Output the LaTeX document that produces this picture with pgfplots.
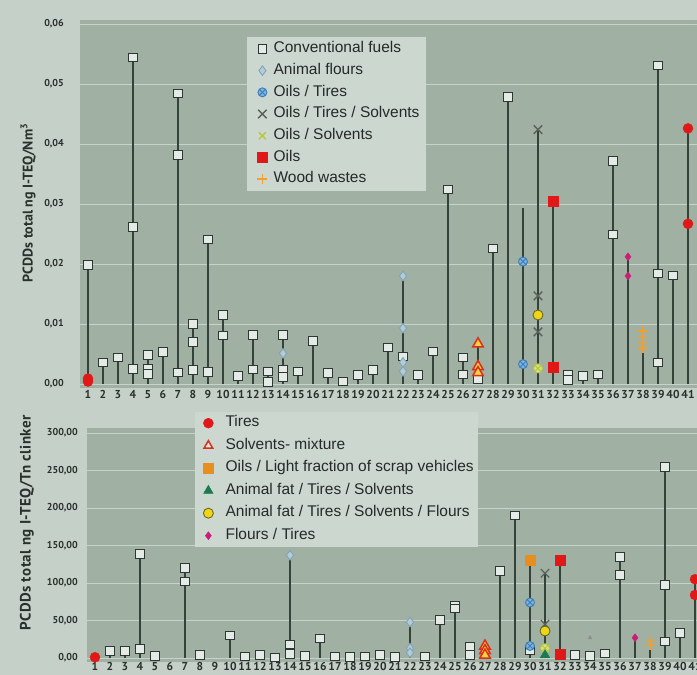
\documentclass[border=0pt]{standalone}
\usepackage{pgfplots}
\pgfplotsset{compat=1.18}
\usepackage{fontspec}
\setmainfont{Liberation Sans}
\newfontfamily\ptsans{PT Sans}
\definecolor{outerbg}{HTML}{C5D0C8}
\definecolor{plotbg}{HTML}{A0B0A3}
\definecolor{legendbg}{HTML}{CCD7D0}
\definecolor{gridc}{HTML}{C6D3CA}
\definecolor{stemc}{HTML}{34423A}
\definecolor{tickc}{HTML}{2A302C}
\definecolor{legtext}{HTML}{262A27}
\definecolor{convfill}{HTML}{E4EAE6}
\definecolor{convdraw}{HTML}{2E3832}
\definecolor{flourfill}{HTML}{B5CCD6}
\definecolor{flourdraw}{HTML}{7FA6B8}
\definecolor{otfill}{HTML}{7FB2DC}
\definecolor{otdraw}{HTML}{3C7EB8}
\definecolor{otsc}{HTML}{5A605B}
\definecolor{osc}{HTML}{B8C83C}
\definecolor{osfill}{HTML}{D8E08A}
\definecolor{oilred}{HTML}{E01818}
\definecolor{woodc}{HTML}{F0A030}
\definecolor{solvfill}{HTML}{F8D040}
\definecolor{solvdraw}{HTML}{D8301A}
\definecolor{lightc}{HTML}{E88E1E}
\definecolor{aftsc}{HTML}{1D7A4E}
\definecolor{aftsffill}{HTML}{F0D418}
\definecolor{aftsfdraw}{HTML}{6A6A20}
\definecolor{ftc}{HTML}{C81E78}
\pgfplotsset{
  panel/.style={scale only axis, axis background/.style={fill=plotbg},
    axis line style={draw=none}, major tick style={draw=none},
    ymajorgrids, grid style={draw=gridc, line width=0.9pt},
    xtick={1,...,41}, /pgf/number format/assume math mode=true,
    scaled y ticks=false, clip mode=global,
    xticklabel style={font=\ptsans\bfseries\fontsize{11.5}{12}\selectfont, text=tickc, inner sep=0pt, yshift=-2pt},
    yticklabel style={font=\ptsans\bfseries\fontsize{10}{12}\selectfont, text=tickc, inner sep=0pt,
      /pgf/number format/.cd, fixed, fixed zerofill, precision=2, use comma, /tikz/.cd},
    ylabel style={font=\ptsans\bfseries\fontsize{14}{16}\selectfont, text=tickc, anchor=center},
    legend cell align=left,
  },
  topleg/.style={legend image code/.code={\path (-8pt,0pt) (11pt,0pt);
      \draw[mark repeat=2,mark phase=2,##1] plot coordinates {(-1pt,0pt)(0pt,0pt)(1pt,0pt)};}},
  botleg/.style={legend image code/.code={\path (-8.5pt,0pt) (17pt,0pt);
      \draw[mark repeat=2,mark phase=2,##1] plot coordinates {(-1pt,0pt)(0pt,0pt)(1pt,0pt)};}},
  stem/.style={ycomb, no marks, draw=stemc, line width=1.3pt, forget plot},
  conv/.style={only marks, mark=square*, mark size=4.3pt, mark options={fill=convfill, draw=convdraw, line width=1pt}},
  flour/.style={only marks, mark=diamond*, mark size=4.8pt, mark options={fill=flourfill, draw=flourdraw, line width=0.9pt}},
  oiltire/.style={only marks, mark=otimes*, mark size=4.5pt, mark options={fill=otfill, draw=otdraw, line width=0.9pt}},
  ots/.style={only marks, mark=x, mark size=6pt, mark options={draw=otsc, line width=1.4pt}},
  oilsolvleg/.style={only marks, mark=x, mark size=5pt, mark options={draw=osc, line width=1.4pt}},
  oilsolv/.style={only marks, mark=otimes*, mark size=4.5pt, mark options={fill=osfill, draw=osc, line width=0.9pt}},
  oils/.style={only marks, mark=square*, mark size=5pt, mark options={fill=oilred, draw=oilred}},
  wood/.style={only marks, mark=+, mark size=5pt, mark options={draw=woodc, line width=1.6pt}},
  tires/.style={only marks, mark=*, mark size=5pt, mark options={fill=oilred, draw=oilred}},
  solv/.style={only marks, mark=triangle*, mark size=6pt, mark options={fill=solvfill, draw=solvdraw, line width=1.5pt}},
  light/.style={only marks, mark=square*, mark size=5pt, mark options={fill=lightc, draw=lightc}},
  afts/.style={only marks, mark=triangle*, mark size=5.5pt, mark options={fill=aftsc, draw=aftsc}},
  aftsf/.style={only marks, mark=*, mark size=5pt, mark options={fill=aftsffill, draw=aftsfdraw, line width=0.9pt}},
  ftires/.style={only marks, mark=diamond*, mark size=4pt, mark options={fill=ftc, draw=ftc}},
}
\begin{document}
\begin{tikzpicture}
\fill[outerbg] (0,0) rectangle (697pt,675pt);
\useasboundingbox (0,0) rectangle (697pt,675pt);
% ---------------- top panel ----------------
\begin{axis}[panel, at={(80pt,287pt)}, anchor=south west, width=617pt, height=368pt,
  xmin=0.4667, xmax=41.6, ymin=-0.00067, ymax=0.06067,
  ytick={0,0.01,0.02,0.03,0.04,0.05,0.06},
  yticklabel style={xshift=-16pt},
  ylabel={PCDDs total ng I-TEQ/Nm\textsuperscript{3}},
  ylabel style={at={(axis description cs:-0.0843,0.503)}},
  legend style={at={(0.2707,0.9538)}, anchor=north west, fill=legendbg, draw=none,
    font=\fontsize{15.5}{17}\selectfont, text=legtext, inner xsep=7pt, inner ysep=4.5pt,
    row sep=7.2pt, nodes={inner sep=0pt, text height=11pt, text depth=3.5pt}},
]
\addplot[stem] coordinates {(1,0.0198)(2,0.0036)(3,0.0044)(4,0.0544)(5,0.0048)(6,0.0053)(7,0.0484)(8,0.0100)(9,0.0241)(10,0.0115)(11,0.0013)(12,0.0082)(13,0.0021)(14,0.0082)(15,0.0021)(16,0.0072)(17,0.0018)(18,0.0004)(19,0.0015)(20,0.0023)(21,0.0061)(22,0.0180)(23,0.0015)(24,0.0054)(25,0.0324)(26,0.0044)(27,0.0067)(28,0.0226)(29,0.0478)(30,0.0293)(31,0.0424)(32,0.0305)(33,0.0016)(34,0.0013)(35,0.0016)(36,0.0372)(37,0.0212)(38,0.0088)(39,0.0531)(40,0.0181)(41,0.0426)};
\addplot[conv, forget plot] coordinates {(1,0.0198)(2,0.0036)(3,0.0044)(4,0.0544)(4,0.0262)(4,0.0025)(5,0.0048)(5,0.0025)(5,0.0017)(6,0.0053)(7,0.0484)(7,0.0382)(7,0.0019)(8,0.0100)(8,0.0070)(8,0.0023)(9,0.0241)(9,0.0020)(10,0.0115)(10,0.0081)(11,0.0013)(12,0.0082)(12,0.0024)(13,0.0021)(13,0.0003)(14,0.0082)(14,0.0023)(14,0.0012)(15,0.0021)(16,0.0072)(17,0.0018)(18,0.0004)(19,0.0015)(20,0.0023)(21,0.0061)(22,0.0046)(23,0.0015)(24,0.0054)(25,0.0324)(26,0.0044)(26,0.0016)(27,0.0008)(28,0.0226)(29,0.0478)(33,0.0016)(33,0.0007)(34,0.0013)(35,0.0016)(36,0.0372)(36,0.0249)(39,0.0531)(39,0.0184)(39,0.0036)(40,0.0181)};
\addplot[flour, forget plot] coordinates {(14,0.0051)(22,0.0180)(22,0.0093)(22,0.0036)(22,0.0021)};
\addplot[oiltire, forget plot] coordinates {(30,0.0204)(30,0.0033)};
\addplot[ots, forget plot] coordinates {(31,0.0424)(31,0.0147)(31,0.0087)};
\addplot[oilsolv, forget plot] coordinates {(31,0.0026)};
\addplot[oils, forget plot] coordinates {(32,0.0305)(32,0.0028)};
\addplot[wood, forget plot] coordinates {(38,0.0088)(38,0.0079)(38,0.0069)(38,0.0060)};
\addplot[tires, forget plot] coordinates {(1,0.0004)(1,0.0009)(41,0.0426)(41,0.0267)};
\addplot[solv, forget plot] coordinates {(27,0.0067)(27,0.0029)(27,0.0019)};
\addplot[aftsf, forget plot] coordinates {(31,0.0115)};
\addplot[ftires, forget plot] coordinates {(37,0.0212)(37,0.0180)};
\addlegendimage{conv, topleg}\addlegendentry{Conventional fuels}
\addlegendimage{flour, topleg}\addlegendentry{Animal flours}
\addlegendimage{oiltire, topleg}\addlegendentry{Oils / Tires}
\addlegendimage{ots, topleg}\addlegendentry{Oils / Tires / Solvents}
\addlegendimage{oilsolvleg, topleg}\addlegendentry{Oils / Solvents}
\addlegendimage{oils, topleg}\addlegendentry{Oils}
\addlegendimage{wood, topleg}\addlegendentry{Wood wastes}
\end{axis}
% ---------------- bottom panel ----------------
\begin{axis}[panel, at={(87pt,13pt)}, anchor=south west, width=610pt, height=234pt,
  xmin=0.4667, xmax=41.133, ymin=-5.33, ymax=306.67,
  ytick={0,50,100,150,200,250,300},
  xticklabel style={yshift=1.5pt},
  yticklabel style={xshift=-9pt},
  ylabel={\addfontfeatures{LetterSpace=3}PCDDs total ng I-TEQ/Tn clinker},
  ylabel style={font=\ptsans\bfseries\fontsize{15}{16}\selectfont, at={(axis description cs:-0.0984,0.594)}},
  legend style={at={(0.1770,1.0695)}, anchor=north west, fill=legendbg, draw=none,
    font=\fontsize{15.5}{17}\selectfont, text=legtext, inner xsep=4.5pt, inner ysep=4pt,
    row sep=8pt, nodes={inner sep=0pt, text height=11pt, text depth=3.5pt}},
]
\addplot[stem] coordinates {(1,1)(2,9)(3,9)(4,139)(5,3)(7,120)(8,4)(10,30)(11,2)(12,4)(13,0.5)(14,137)(15,3)(16,26)(17,2)(18,1)(19,2)(20,4)(21,1)(22,48)(23,2)(24,51)(25,70)(26,15)(27,16)(28,116)(29,190)(30,131)(31,113)(32,131)(33,4)(34,3)(35,6)(36,135)(37,27)(38,22)(39,255)(40,33)(41,105)};
\addplot[conv, forget plot] coordinates {(2,9)(3,9)(4,139)(4,12)(5,3)(7,120)(7,102)(8,4)(10,30)(11,2)(12,4)(13,0.5)(14,18)(14,5)(15,3)(16,26)(17,2)(18,1)(19,2)(20,4)(21,1)(23,2)(24,51)(25,70)(25,66)(26,15)(26,4)(28,116)(29,190)(30,11)(33,4)(34,3)(35,6)(36,135)(36,111)(39,255)(39,97)(39,22)(40,33)};
\addplot[flour, forget plot] coordinates {(14,137)(22,48)(22,13)(22,7)};
\addplot[oiltire, forget plot] coordinates {(30,74)(30,16)};
\addplot[ots, forget plot] coordinates {(31,113)(31,45)};
\addplot[oilsolv, forget plot] coordinates {(31,13)};
\addplot[oils, forget plot] coordinates {(32,131)(32,5)};
\addplot[wood, forget plot] coordinates {(38,22)(38,18)};
\addplot[tires, forget plot] coordinates {(1,1)(41,105)(41,84)};
\addplot[solv, forget plot] coordinates {(27,16)(27,10)(27,4)};
\addplot[light, forget plot] coordinates {(30,131)};
\addplot[afts, forget plot] coordinates {(31,4)};
\addplot[only marks, mark=triangle*, mark size=2.2pt, mark options={fill=otsc!70, draw=otsc!70}, forget plot] coordinates {(34,27)};
\addplot[aftsf, forget plot] coordinates {(31,36)};
\addplot[ftires, forget plot] coordinates {(37,27)};
\addlegendimage{tires, botleg}\addlegendentry{Tires}
\addlegendimage{solv, mark size=5pt, mark options={fill=convfill, draw=solvdraw, line width=1.5pt}, botleg}\addlegendentry{Solvents- mixture}
\addlegendimage{light, botleg}\addlegendentry{Oils / Light fraction of scrap vehicles}
\addlegendimage{afts, botleg}\addlegendentry{Animal fat / Tires / Solvents}
\addlegendimage{aftsf, botleg}\addlegendentry{Animal fat / Tires / Solvents / Flours}
\addlegendimage{ftires, botleg}\addlegendentry{Flours / Tires}
\end{axis}
\end{tikzpicture}
\end{document}
